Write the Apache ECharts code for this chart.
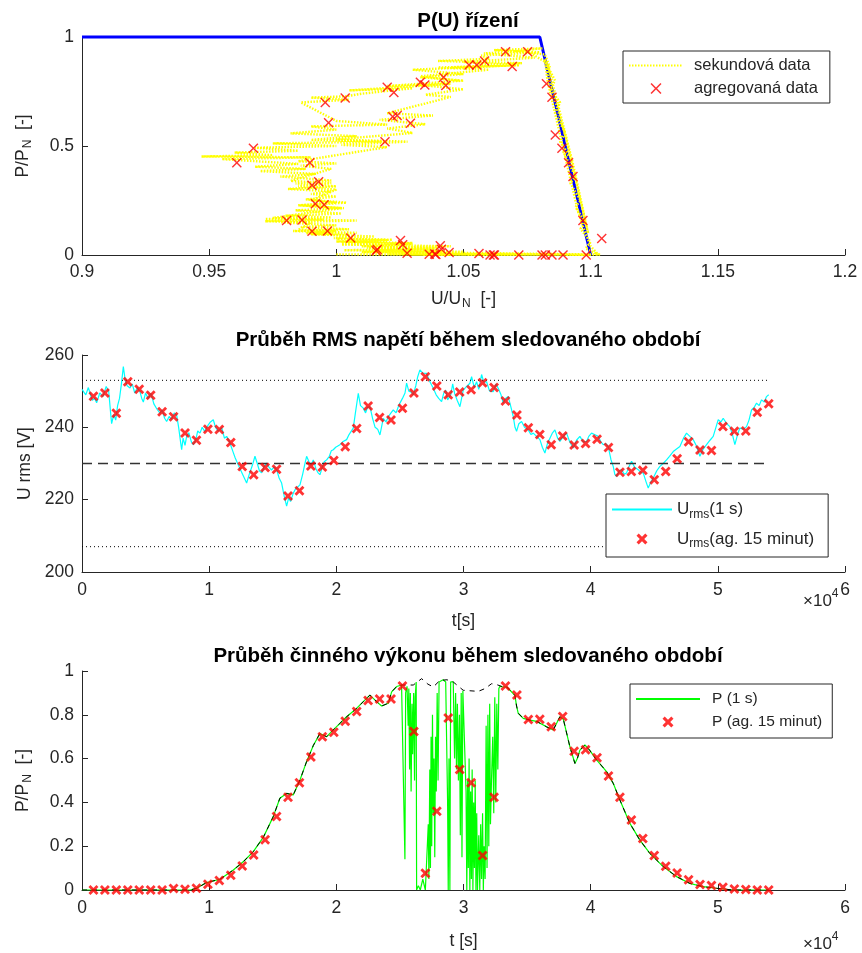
<!DOCTYPE html>
<html><head><meta charset="utf-8">
<script src="https://cdn.jsdelivr.net/npm/echarts@6/dist/echarts.min.js"></script>
<style>html,body{margin:0;padding:0;background:#fff}#c{width:862px;height:953px}</style>
</head><body><div id="c"></div>
<script>
// ---------- aggregated 15-minute data ----------
const aggT = [900,1800,2700,3600,4500,5400,6300,7200,8100,9000,
  9900,10800,11700,12600,13500,14400,15300,16200,17100,18000,
  18900,19800,20700,21600,22500,23400,24300,25200,26100,27000,
  27900,28800,29700,30600,31500,32400,33300,34200,35100,36000,
  36900,37800,38700,39600,40500,41400,42300,43200,44100,45000,
  45900,46800,47700,48600,49500,50400,51300,52200,53100,54000];
const aggU = [248.6,249.5,243.9,252.6,250.5,248.9,244.3,242.9,238.4,236.4,
  239.5,239.4,235.8,229.2,226.9,228.9,228.4,221.0,222.5,229.3,
  229.0,230.8,234.6,239.7,245.9,242.7,242.0,245.3,249.5,254.0,
  251.4,249.0,249.8,250.4,252.3,251.0,247.3,243.4,239.9,238.0,
  235.2,237.6,235.1,235.5,236.7,234.4,227.6,227.8,228.1,225.5,
  227.8,231.3,236.0,233.7,233.6,240.2,238.9,239.0,244.2,246.5];
const aggP = [0,0,0,0,0,0,0,0.007,0.003,0.008,
  0.026,0.043,0.067,0.11,0.16,0.23,0.336,0.423,0.49,0.607,
  0.70,0.72,0.77,0.815,0.865,0.872,0.872,0.932,0.724,0.076,
  0.36,0.785,0.55,0.49,0.158,0.423,0.932,0.89,0.778,0.78,
  0.745,0.792,0.634,0.64,0.604,0.52,0.423,0.32,0.235,0.158,
  0.109,0.078,0.047,0.025,0.02,0.012,0.005,0.002,0,0];
const uNom = 230;
const uLim = [207, 253];
const limT = [0, 54000];

// ---------- P(U) characteristic ----------
const charU = [0.9, 1.08, 1.1];
const charP = [1, 1, 0];

// ---------- 1-second U/P cloud (U/UN, P/PN) ----------
const yelU = [1.000,1.045,1.020,1.080,1.035,1.100,1.060,1.090,1.040,1.070,1.025,1.055,1.104,1.050,1.010,1.042,1.003,1.038,1.012,1.045,
  1.002,1.030,1.000,1.022,0.999,1.015,0.990,1.008,0.983,1.005,0.986,1.000,0.978,1.008,0.972,0.998,0.980,1.002,0.984,1.003,
  0.986,1.004,0.988,1.000,0.990,0.998,0.981,1.000,0.984,0.998,0.978,0.992,0.970,0.988,0.968,0.985,0.955,0.990,0.947,0.975,
  0.960,0.985,0.968,1.000,0.975,1.018,0.990,1.008,0.982,1.000,0.990,1.020,1.000,0.986,1.005,0.990,1.004,1.010,1.030,1.005,
  1.045,1.020,1.050,1.033,1.050,1.030,1.070,1.045,1.073,1.040,1.060,1.057,1.080,1.062,1.081,1.070,
  1.082,1.084,1.082,1.086,1.084,1.088,1.086,1.090,1.088,1.092,1.089,1.094,1.092,1.096,1.094,1.098,1.096,1.100,1.098,1.103,
  1.100,1.097,1.095,1.093,1.091,1.089,1.087,1.085,1.083,1.082,1.085,1.090,1.095,1.099,1.093,1.088,1.083,
  1.075,1.058,1.078,1.050,1.072,1.040,1.060,1.033,1.048,1.033,1.050,1.035,1.045,1.020,1.038,1.017,1.035,1.020,1.030,1.000,
  1.028,1.002,1.020,0.985,1.000,0.986,0.998,0.982,0.998,0.985,1.000,0.990,1.000,0.985,1.002,0.975,0.995,0.972,0.990,0.985,
  1.000,0.988,1.005,1.000,1.020,1.002,1.030,1.010,1.040,1.015,1.050,1.020,1.060,1.030,1.072];
const yelP = [0.003,0.001,0.004,0.002,0.005,0.001,0.003,0.004,0.002,0.006,0.008,0.004,0.002,0.010,0.014,0.018,0.022,0.028,0.034,0.040,
  0.048,0.055,0.062,0.070,0.078,0.085,0.095,0.102,0.110,0.118,0.128,0.136,0.150,0.158,0.165,0.172,0.180,0.190,0.205,0.215,
  0.228,0.240,0.255,0.268,0.280,0.292,0.303,0.315,0.328,0.342,0.360,0.372,0.385,0.395,0.405,0.418,0.440,0.448,0.452,0.458,
  0.470,0.478,0.492,0.500,0.512,0.520,0.528,0.545,0.558,0.575,0.590,0.598,0.615,0.700,0.712,0.722,0.728,0.740,0.765,0.755,
  0.785,0.775,0.800,0.815,0.830,0.850,0.870,0.860,0.880,0.890,0.900,0.915,0.930,0.940,0.948,0.935,
  0.920,0.860,0.890,0.800,0.760,0.700,0.650,0.560,0.520,0.450,0.480,0.360,0.330,0.250,0.220,0.150,0.120,0.060,0.030,0.002,
  0.040,0.130,0.200,0.300,0.400,0.500,0.600,0.700,0.800,0.900,0.750,0.550,0.300,0.100,0.420,0.650,0.880,
  0.935,0.925,0.905,0.885,0.870,0.860,0.850,0.820,0.800,0.780,0.760,0.735,0.725,0.650,0.640,0.620,0.600,0.580,0.560,0.530,
  0.520,0.505,0.495,0.430,0.420,0.410,0.395,0.340,0.330,0.315,0.300,0.250,0.240,0.228,0.215,0.170,0.162,0.155,0.150,0.115,
  0.110,0.100,0.090,0.075,0.068,0.060,0.050,0.040,0.030,0.022,0.015,0.008,0.004,0.002,0.001];

// ---------- 1-second RMS voltage ----------
const uT = [0,300,500,800,1000,1150,1400,1650,1900,2100,2250,2330,2500,2650,2800,2950,3100,3250,3400,3550,
  3774,3950,4150,4350,4560,4700,4822,5000,5200,5425,5650,5900,6133,6300,6500,6657,6850,7050,7250,7443,
  7600,7750,7836,7950,8100,8229,8400,8600,8753,8950,9100,9277,9450,9650,9932,10100,10325,10500,10700,10850,
  11000,11200,11374,11600,11750,11898,12050,12160,12300,12500,12700,12946,13150,13400,13601,13800,13950,14125,14300,14518,
  14700,14900,15100,15305,15500,15698,15900,16091,16250,16400,16615,16800,16950,17139,17350,17500,17663,17850,18000,18188,
  18400,18550,18712,18900,19050,19236,19450,19600,19760,19950,20100,20284,20500,20650,20808,21000,21150,21332,21500,21726,
  21900,22119,22300,22450,22643,22850,23050,23250,23429,23550,23691,23900,24100,24300,24478,24700,24850,25002,25200,25400,
  25526,25700,25900,26050,26250,26400,26574,26800,27098,27300,27450,27622,27850,28050,28277,28450,28600,28750,29000,29150,
  29300,29500,29719,29850,29981,30243,30505,30636,30850,31029,31200,31422,31600,31815,32050,32340,32550,32733,32950,33126,
  33300,33519,33700,33912,34050,34174,34350,34567,34800,35091,35300,35484,35750,36009,36200,36402,36600,36795,37000,37188,
  37400,37581,37850,38105,38350,38629,38900,39153,39400,39677,39850,40071,40300,40595,40800,40988,41200,41381,41600,41774,
  41900,42036,42250,42429,42650,42823,43000,43216,43450,43740,43950,44133,44350,44526,44750,44920,45200,45444,45700,45968,
  46200,46492,46750,47016,47300,47540,47800,48065,48300,48589,48850,49113,49400,49637,49850,50030,50250,50423,50700,50947,
  51150,51340,51550,51734,52000,52258,52450,52651,52850,53044,53250,53437,53650,53830,54000];
const uV = [250.5,249.0,251.0,247.5,248.0,246.8,249.5,248.5,251.3,250.0,244.0,241.0,243.5,242.0,246.0,248.0,252.0,256.8,253.0,251.5,
  250.9,252.0,249.5,251.0,249.8,248.0,247.0,249.5,248.0,249.4,246.5,245.0,243.9,244.8,242.5,241.6,243.0,242.2,244.0,243.4,
  240.0,236.0,233.8,237.0,235.0,237.5,238.5,236.0,235.2,236.5,239.0,238.4,240.0,238.9,240.7,241.5,242.1,240.0,239.0,238.9,
  239.8,237.0,237.5,236.0,234.5,233.0,231.5,231.0,229.5,228.0,226.5,224.6,227.0,229.5,232.0,229.8,228.0,227.4,229.0,230.1,
  229.0,228.2,229.0,228.3,226.0,224.6,221.0,218.2,220.5,219.5,221.8,223.0,222.5,224.1,227.0,229.5,232.0,230.5,229.5,231.0,
  228.5,227.5,226.9,229.0,230.5,231.0,232.0,233.5,233.8,234.5,235.0,235.2,236.0,236.5,236.6,238.0,238.5,239.8,244.0,249.4,
  246.0,245.3,244.0,245.5,245.7,242.5,240.0,239.5,237.9,240.0,242.5,241.5,243.0,244.0,244.8,244.0,245.5,246.7,248.0,249.5,
  252.2,250.0,249.7,249.0,251.5,254.0,255.9,255.0,254.9,253.0,252.0,250.8,249.0,248.0,247.1,249.5,250.3,247.6,249.0,252.0,
  249.4,247.5,245.7,248.0,250.3,251.3,252.2,254.0,251.0,252.6,250.5,254.6,252.5,252.6,250.0,249.9,252.0,250.8,249.0,246.7,
  248.0,248.5,246.0,243.0,240.0,238.9,241.0,241.6,240.0,239.3,238.0,238.4,237.5,236.6,234.5,232.9,235.5,237.0,238.5,239.3,
  237.0,236.1,237.5,238.4,236.0,234.3,236.5,237.5,236.0,236.1,237.5,238.4,238.0,237.5,236.0,235.2,235.5,234.7,231.0,229.2,
  227.0,226.4,228.0,228.3,227.0,227.4,229.0,230.6,229.0,228.3,227.5,227.4,225.0,223.2,225.0,226.0,228.0,229.2,230.0,231.0,
  232.0,233.3,234.0,234.7,237.0,238.4,237.5,236.6,235.0,232.0,234.0,235.2,236.5,237.5,240.0,242.1,241.5,242.5,241.0,240.2,
  238.0,235.2,238.0,239.8,239.5,240.2,242.0,244.8,245.5,246.7,246.0,247.6,247.0,248.5,249.0];

// ---------- available power (black) ----------
const avT = [0,8500,9016,9800,10850,11900,12700,13470,14250,15040,15560,16090,16610,17140,17660,18190,18710,19240,19760,20280,
  20810,21590,22120,22640,23170,23560,24090,24350,24740,25130,26050,26706,27200,27621,28145,28700,29194,29600,29981,31160,
  31700,32209,32602,33126,33388,34043,34174,34305,34698,35222,35750,36533,37057,37581,37850,38367,38760,38950,39153,39546,
  39900,40464,41250,41774,42298,43084,43870,44657,45705,46754,47802,48851,49899,51200,54000];
const avP = [0,0,0.008,0.034,0.049,0.091,0.13,0.175,0.24,0.335,0.419,0.441,0.434,0.502,0.586,0.66,0.715,0.70,0.731,0.761,
  0.791,0.829,0.86,0.89,0.86,0.84,0.853,0.905,0.929,0.936,0.936,0.965,0.94,0.927,0.957,0.96,0.95,0.93,0.912,0.907,
  0.92,0.942,0.938,0.927,0.928,0.889,0.84,0.807,0.784,0.776,0.77,0.745,0.731,0.791,0.78,0.654,0.578,0.60,0.639,0.662,
  0.64,0.594,0.541,0.487,0.411,0.304,0.228,0.167,0.107,0.061,0.030,0.015,0.008,0,0];

// ---------- actual 1 s power during curtailment ----------
const curT = [25263,25394,25450,25560,25650,25700,25760,25820,25880,25950,26000,26080,26150,26200,26280,26312,26450,26600,26800,27000,
  27150,27230,27280,27350,27400,27450,27500,27560,27620,27680,27740,27800,27860,27930,28000,28080,28146,28400,28600,28750,
  28800,28860,28930,28990,29100,29194,29300,29380,29450,29520,29600,29680,29750,29820,29880,29950,30000,30100,30200,30260,
  30320,30380,30440,30500,30560,30620,30680,30740,30800,30860,30920,30980,31040,31100,31200,31280,31350,31420,31500,31560,
  31620,31700,31780,31850,31920,31990,32060,32120,32200,32300,32380,32460,32540,32620,32700,32780,32864,33000,33126];
const curP = [0.93,0.14,0.9,0.93,0.75,0.92,0.55,0.9,0.45,0.85,0.62,0.9,0.5,0.88,0.95,0.0,0.02,0.0,0.05,0.0,
  0.0,0.3,0.05,0.55,0.1,0.7,0.2,0.8,0.35,0.6,0.15,0.7,0.45,0.9,0.5,0.95,0.957,0.96,0.95,0.4,
  0.0,0.6,0.0,0.95,0.95,0.95,0.6,0.9,0.55,0.85,0.5,0.8,0.25,0.9,0.15,0.91,0.91,0.91,0.45,0.0,
  0.5,0.1,0.6,0.0,0.45,0.05,0.55,0.0,0.4,0.1,0.5,0.0,0.35,0.0,0.25,0.0,0.3,0.05,0.35,0.0,
  0.2,0.05,0.75,0.1,0.8,0.2,0.85,0.3,0.5,0.7,0.35,0.88,0.4,0.85,0.55,0.92,0.93,0.93,0.927];

// ---------- ticks ----------
const xTicksPU = [0.9, 1.2, 0.05];
const xTicksT = [0, 60000, 10000];

// ---------- build ----------
const zip = (a, b) => a.map((v, i) => [v, b[i]]);
const FONT = 'Liberation Sans, Arial, sans-serif';
const GREY = '#262626';
const FS = 17.5;
const xThin = 'path://M1,0L5,4L9,0L10,1L6,5L10,9L9,10L5,6L1,10L0,9L4,5L0,1Z';
const xBold = 'path://M2,0L5,3L8,0L10,2L7,5L10,8L8,10L5,7L2,10L0,8L3,5L0,2Z';
const hideSym = { opacity: 0 };

const greenData = zip(avT, avP).filter(d => d[0] < 25200)
  .concat(zip(curT, curP))
  .concat(zip(avT, avP).filter(d => d[0] > 33300));

function axisCommon(extra) {
  return Object.assign({
    type: 'value',
    axisLine: { show: true, onZero: false, lineStyle: { color: GREY, width: 1 } },
    axisTick: { show: true, inside: true, length: 6, lineStyle: { color: GREY } },
    splitLine: { show: false },
    axisLabel: { color: GREY, fontSize: FS, fontFamily: FONT, margin: 8 },
    nameLocation: 'middle',
    nameTextStyle: { color: GREY, fontSize: FS, fontFamily: FONT }
  }, extra);
}
const subRich = {
  a: { fontSize: FS, fontFamily: FONT, color: GREY },
  b: { fontSize: 12, fontFamily: FONT, color: GREY, padding: [10, 0, 0, 1] }
};
const tLabel = { color: GREY, fontSize: FS, fontFamily: FONT, margin: 9, formatter: v => String(v / 10000) };
const titleStyle = { fontSize: 20.5, fontWeight: 'bold', color: '#000', fontFamily: FONT };

const option = {
  animation: false,
  backgroundColor: '#fff',
  textStyle: { fontFamily: FONT },
  title: [
    { text: 'P(U) řízení', left: 463, top: 6, textAlign: 'center', textStyle: titleStyle },
    { text: 'Průběh RMS napětí během sledovaného období', left: 463, top: 325, textAlign: 'center', textStyle: titleStyle },
    { text: 'Průběh činného výkonu během sledovaného období', left: 463, top: 641, textAlign: 'center', textStyle: titleStyle }
  ],
  grid: [
    { left: 82, top: 37, width: 763, height: 218 },
    { left: 82, top: 355, width: 763, height: 217 },
    { left: 82, top: 671, width: 763, height: 219 }
  ],
  xAxis: [
    axisCommon({ gridIndex: 0, min: xTicksPU[0], max: xTicksPU[1], interval: xTicksPU[2],
      name: '{a|U/U}{b|N}{a|  [-]}', nameGap: 33, nameTextStyle: { rich: subRich } }),
    axisCommon({ gridIndex: 1, min: xTicksT[0], max: xTicksT[1], interval: xTicksT[2],
      axisLabel: tLabel, name: 't[s]', nameGap: 40 }),
    axisCommon({ gridIndex: 2, min: xTicksT[0], max: xTicksT[1], interval: xTicksT[2],
      axisLabel: tLabel, name: 't [s]', nameGap: 42 })
  ],
  yAxis: [
    axisCommon({ gridIndex: 0, min: 0, max: 1, interval: 0.5,
      name: '{a|P/P}{b|N}{a|  [-]}', nameGap: 48, nameRotate: 90, nameTextStyle: { rich: subRich } }),
    axisCommon({ gridIndex: 1, min: 200, max: 260, interval: 20,
      name: 'U rms [V]', nameGap: 44, nameRotate: 90 }),
    axisCommon({ gridIndex: 2, min: 0, max: 1, interval: 0.2,
      name: '{a|P/P}{b|N}{a|  [-]}', nameGap: 48, nameRotate: 90, nameTextStyle: { rich: subRich } })
  ],
  legend: [
    { data: [{ name: 'sekundová data', itemStyle: hideSym }, 'agregovaná data'], orient: 'vertical', left: 623, top: 51,
      backgroundColor: '#fff', borderColor: GREY, borderWidth: 1, padding: [6, 12, 6, 5],
      itemWidth: 54, itemHeight: 11, itemGap: 6,
      textStyle: { fontSize: 16.5, color: GREY, fontFamily: FONT, padding: [0, 0, 0, 6] } },
    { data: [{ name: 'U1s', itemStyle: hideSym }, 'Uagg'], orient: 'vertical', left: 606, top: 494,
      backgroundColor: '#fff', borderColor: GREY, borderWidth: 1, padding: [7, 14, 7, 5],
      itemWidth: 60, itemHeight: 11, itemGap: 10,
      formatter: n => n === 'U1s' ? '{m|U}{s|rms}{m|(1 s)}' : '{m|U}{s|rms}{m|(ag. 15 minut)}',
      textStyle: { fontSize: 17, color: GREY, fontFamily: FONT,
        rich: { m: { fontSize: 17, color: GREY, fontFamily: FONT },
                s: { fontSize: 12, color: GREY, fontFamily: FONT, padding: [10, 0, 0, 0] } } } },
    { data: [{ name: 'P1s', itemStyle: hideSym }, 'Pagg'], orient: 'vertical', left: 630, top: 684,
      backgroundColor: '#fff', borderColor: GREY, borderWidth: 1, padding: [7, 10, 8, 5],
      itemWidth: 64, itemHeight: 11, itemGap: 7,
      formatter: n => n === 'P1s' ? 'P (1 s)' : 'P (ag. 15 minut)',
      textStyle: { fontSize: 15.5, color: GREY, fontFamily: FONT, padding: [0, 0, 0, 7] } }
  ],
  graphic: [
    { type: 'text', left: 803, top: 588, style: { text: '{a|×10}{b|4}',
      rich: { a: { fontSize: 17, fill: GREY, fontFamily: FONT, padding: [8, 0, 0, 0] }, b: { fontSize: 12, fill: GREY, fontFamily: FONT, padding: [0, 0, 6, 0] } } } },
    { type: 'text', left: 803, top: 931, style: { text: '{a|×10}{b|4}',
      rich: { a: { fontSize: 17, fill: GREY, fontFamily: FONT, padding: [8, 0, 0, 0] }, b: { fontSize: 12, fill: GREY, fontFamily: FONT, padding: [0, 0, 6, 0] } } } }
  ],
  series: [
    // top plot
    { name: 'charakteristika', type: 'line', xAxisIndex: 0, yAxisIndex: 0, data: zip(charU, charP),
      symbol: 'none', clip: false, z: 1, lineStyle: { color: '#0000FF', width: 3 } },
    { name: 'sekundová data', type: 'line', xAxisIndex: 0, yAxisIndex: 0, data: zip(yelU, yelP),
      symbol: 'none', z: 2, lineStyle: { color: '#FFFF00', width: 2.4, type: [1.5, 1.5] },
      itemStyle: { color: '#FFFF00' } },
    { name: 'agregovaná data', type: 'scatter', xAxisIndex: 0, yAxisIndex: 0, clip: false, z: 4,
      data: aggU.map((u, i) => [u / uNom, aggP[i]]),
      symbol: xThin, symbolSize: 10, itemStyle: { color: '#FF0000' } },
    // middle plot
    { name: 'U1s', type: 'line', xAxisIndex: 1, yAxisIndex: 1, data: zip(uT, uV),
      symbol: 'none', z: 2, lineStyle: { color: '#00FFFF', width: 1.2 }, itemStyle: { color: '#00FFFF' } },
    { name: 'nom', type: 'line', xAxisIndex: 1, yAxisIndex: 1, data: limT.map(t => [t, uNom]),
      symbol: 'none', z: 3, lineStyle: { color: '#333', width: 1.3, type: [10, 6] } },
    { name: 'limHi', type: 'line', xAxisIndex: 1, yAxisIndex: 1, data: limT.map(t => [t, uLim[1]]),
      symbol: 'none', z: 3, lineStyle: { color: '#000', width: 1, type: [1, 3] } },
    { name: 'limLo', type: 'line', xAxisIndex: 1, yAxisIndex: 1, data: limT.map(t => [t, uLim[0]]),
      symbol: 'none', z: 3, lineStyle: { color: '#000', width: 1, type: [1, 3] } },
    { name: 'Uagg', type: 'scatter', xAxisIndex: 1, yAxisIndex: 1, data: zip(aggT, aggU), clip: false,
      z: 4, symbol: xBold, symbolSize: 10, itemStyle: { color: '#FF0000' } },
    // bottom plot
    { name: 'P1s', type: 'line', xAxisIndex: 2, yAxisIndex: 2, data: greenData,
      symbol: 'none', z: 2, lineStyle: { color: '#00FF00', width: 1.2 }, itemStyle: { color: '#00FF00' } },
    { name: 'Pav', type: 'line', xAxisIndex: 2, yAxisIndex: 2, data: zip(avT, avP),
      symbol: 'none', z: 3, lineStyle: { color: '#000', width: 1, type: [5, 5] } },
    { name: 'Pagg', type: 'scatter', xAxisIndex: 2, yAxisIndex: 2, data: zip(aggT, aggP), clip: false,
      z: 4, symbol: xBold, symbolSize: 10, itemStyle: { color: '#FF0000' } }
  ]
};
const chart = echarts.init(document.getElementById('c'), null, { renderer: 'canvas' });
chart.setOption(option);
</script>
</body></html>
